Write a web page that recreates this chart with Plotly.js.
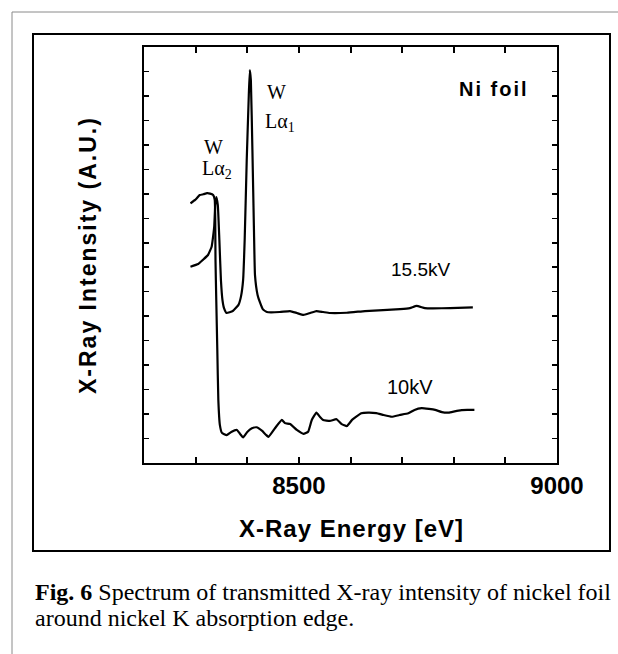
<!DOCTYPE html>
<html>
<head>
<meta charset="utf-8">
<script src="https://cdn.plot.ly/plotly-3.0.1.min.js"></script>
<style>
  html, body { margin: 0; padding: 0; background: #ffffff; }
  #chart { width: 618px; height: 654px; }
</style>
</head>
<body>
<div id="chart"></div>
<script>
// ---- Data (energy in eV, intensity in arbitrary units) ----
const energy155 = [8290, 8305, 8314, 8324, 8331, 8334, 8336, 8338, 8340, 8343, 8346, 8349, 8352, 8355, 8360,
  8372, 8383, 8388, 8392, 8395, 8399, 8403, 8405, 8407, 8410, 8413, 8415, 8420, 8425, 8430, 8438,
  8463, 8483, 8496, 8509, 8522, 8534, 8547, 8560, 8593, 8628, 8663, 8696, 8715, 8728, 8744, 8760, 8793, 8837];
const intensity155 = [8.02, 8.13, 8.30, 8.50, 8.84, 9.28, 9.66, 10.54, 10.87, 10.54, 9.11, 7.48, 6.66, 6.33, 6.13,
  6.21, 6.46, 6.82, 7.48, 9.11, 12.38, 15.04, 16.06, 15.65, 12.79, 9.52, 7.68, 6.87, 6.54, 6.29, 6.17,
  6.17, 6.21, 6.13, 6.05, 6.13, 6.21, 6.17, 6.13, 6.14, 6.21, 6.25, 6.29, 6.33, 6.42, 6.33, 6.32, 6.33, 6.36];

const energy10 = [8290, 8299, 8308, 8315, 8322, 8328, 8334, 8337, 8338, 8338.5, 8340, 8342, 8344, 8347, 8351,
  8360, 8369, 8380, 8386, 8392, 8400, 8409, 8418, 8429, 8441, 8454, 8467, 8473, 8483, 8496, 8509,
  8518, 8525, 8534, 8541, 8547, 8560, 8573, 8583, 8593, 8603, 8621, 8634, 8650, 8664, 8680, 8695,
  8712, 8724, 8738, 8752, 8764, 8777, 8790, 8806, 8826, 8840];
const intensity10 = [10.61, 10.75, 10.95, 10.98, 11.03, 11.01, 10.95, 10.75, 9.93, 8.30, 6.66, 4.62, 2.57, 1.55, 1.23,
  1.14, 1.27, 1.35, 1.19, 1.05, 1.27, 1.42, 1.46, 1.31, 1.07, 1.43, 1.76, 1.63, 1.59, 1.35, 1.19,
  1.28, 1.76, 2.06, 1.88, 1.76, 1.72, 1.79, 1.59, 1.51, 1.76, 2.03, 2.06, 2.04, 1.96, 1.89, 1.96,
  2.03, 2.17, 2.24, 2.21, 2.17, 2.08, 2.06, 2.13, 2.17, 2.17];

// x ticks every 100 eV, labelled only at 8500 and 9000
const xTickVals = [8200, 8300, 8400, 8500, 8600, 8700, 8800, 8900, 9000];
const xTickText = ['', '', '', '8500', '', '', '', '', '9000'];

const seriesLabels = ['15.5kV', '10kV'];
const xTitle = 'X-Ray Energy [eV]';
const yTitle = 'X-Ray Intensity (A.U.)';
const sampleLabel = 'Ni foil';
const captionLine1 = '<b>Fig. 6</b> Spectrum of transmitted X-ray intensity of nickel foil';
const captionLine2 = 'around nickel K absorption edge.';

// ---- Plot ----
const sans = 'Liberation Sans, Arial, Helvetica, sans-serif';
const serif = 'Liberation Serif, Times New Roman, serif';

const traces = [
  { x: energy155, y: intensity155, name: seriesLabels[0], type: 'scatter', mode: 'lines',
    line: { color: '#000000', width: 2.2, shape: 'spline', smoothing: 0.35 }, hoverinfo: 'skip' },
  { x: energy10, y: intensity10, name: seriesLabels[1], type: 'scatter', mode: 'lines',
    line: { color: '#000000', width: 2.2, shape: 'spline', smoothing: 0.35 }, hoverinfo: 'skip' }
];

// plot area: left 144, right 557, top 47, bottom 463 (px)
const L = 144, R = 557, T = 47, B = 463;
const px = v => (v - L) / (R - L);
const py = v => (B - v) / (B - T);

const layout = {
  width: 618, height: 654,
  margin: { l: L, r: 618 - R, t: T, b: 654 - B, pad: 0 },
  paper_bgcolor: '#ffffff', plot_bgcolor: '#ffffff',
  showlegend: false,
  xaxis: {
    range: [8200, 9000], showgrid: false, zeroline: false,
    showline: true, linecolor: '#000', linewidth: 2, mirror: 'ticks',
    ticks: 'inside', ticklen: 6, tickwidth: 2, tickcolor: '#000',
    tickmode: 'array', tickvals: xTickVals, ticktext: xTickText,
    tickfont: { family: sans, size: 24, color: '#000', weight: 'bold' }
  },
  yaxis: {
    range: [0, 17], showgrid: false, zeroline: false,
    showline: true, linecolor: '#000', linewidth: 2, mirror: 'ticks',
    ticks: 'inside', ticklen: 5, tickwidth: 1.5, tickcolor: '#000',
    tick0: 0, dtick: 1, showticklabels: false
  },
  shapes: [
    // page rules (grey)
    { type: 'line', xref: 'paper', yref: 'paper', x0: px(12), x1: px(618), y0: py(12), y1: py(12),
      line: { color: '#8a8a8a', width: 1 } },
    { type: 'line', xref: 'paper', yref: 'paper', x0: px(12), x1: px(12), y0: py(12), y1: py(654),
      line: { color: '#8a8a8a', width: 1 } },
    // figure frame
    { type: 'rect', xref: 'paper', yref: 'paper', x0: px(33), x1: px(610), y0: py(551), y1: py(34),
      line: { color: '#000', width: 2 }, fillcolor: 'rgba(0,0,0,0)' }
  ],
  annotations: [
    { xref: 'paper', yref: 'paper', x: px(351), y: py(528), xanchor: 'center', yanchor: 'middle',
      text: '<span style="letter-spacing:1px">' + xTitle + '</span>', showarrow: false,
      font: { family: sans, size: 24, color: '#000', weight: 'bold' } },
    { xref: 'paper', yref: 'paper', x: px(88), y: py(255), xanchor: 'center', yanchor: 'middle', textangle: -90,
      text: '<span style="letter-spacing:2px">' + yTitle + '</span>', showarrow: false,
      font: { family: sans, size: 23, color: '#000', weight: 'bold' } },
    { xref: 'x', yref: 'y', x: 8877, y: 15.28, xanchor: 'center', yanchor: 'middle',
      text: '<span style="letter-spacing:2px">' + sampleLabel + '</span>', showarrow: false,
      font: { family: sans, size: 20, color: '#000', weight: 'bold' } },
    { xref: 'x', yref: 'y', x: 8735, y: 7.89, xanchor: 'center', yanchor: 'middle',
      text: seriesLabels[0], showarrow: false,
      font: { family: sans, size: 19, color: '#000' } },
    { xref: 'x', yref: 'y', x: 8715, y: 3.1, xanchor: 'center', yanchor: 'middle',
      text: seriesLabels[1], showarrow: false,
      font: { family: sans, size: 20, color: '#000' } },
    { xref: 'x', yref: 'y', x: 8434, y: 15.15, xanchor: 'left', yanchor: 'middle',
      text: 'W', showarrow: false, font: { family: serif, size: 20, color: '#000' } },
    { xref: 'x', yref: 'y', x: 8430, y: 13.9, xanchor: 'left', yanchor: 'middle',
      text: 'L\u03B1<sub>1</sub>', showarrow: false, font: { family: serif, size: 20, color: '#000' } },
    { xref: 'x', yref: 'y', x: 8312, y: 12.93, xanchor: 'left', yanchor: 'middle',
      text: 'W', showarrow: false, font: { family: serif, size: 20, color: '#000' } },
    { xref: 'x', yref: 'y', x: 8308, y: 12.0, xanchor: 'left', yanchor: 'middle',
      text: 'L\u03B1<sub>2</sub>', showarrow: false, font: { family: serif, size: 20, color: '#000' } },
    { xref: 'paper', yref: 'paper', x: px(33), y: py(592), xanchor: 'left', yanchor: 'middle',
      text: captionLine1, showarrow: false, font: { family: serif, size: 24, color: '#000' } },
    { xref: 'paper', yref: 'paper', x: px(33), y: py(618), xanchor: 'left', yanchor: 'middle',
      text: captionLine2, showarrow: false, font: { family: serif, size: 24, color: '#000' } }
  ]
};

Plotly.newPlot('chart', traces, layout, { staticPlot: true, displayModeBar: false });
</script>
</body>
</html>
